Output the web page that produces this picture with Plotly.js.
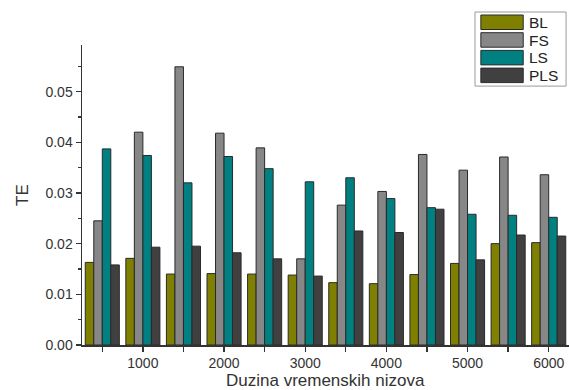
<!DOCTYPE html>
<html>
<head>
<meta charset="utf-8">
<script src="https://cdn.plot.ly/plotly-3.0.1.min.js"></script>
<style>html,body{margin:0;padding:0;background:#fff;}#chart{width:569px;height:390px;}</style>
</head>
<body>
<div id="chart"></div>
<script>
const lengths = [500, 1000, 1500, 2000, 2500, 3000, 3500, 4000, 4500, 5000, 5500, 6000];
const seriesNames = ["BL", "FS", "LS", "PLS"];
const seriesColors = ["#808000", "#878787", "#008080", "#404040"];
const BL  = [0.0163, 0.0171, 0.0140, 0.0141, 0.0140, 0.0138, 0.0123, 0.0121, 0.0139, 0.0161, 0.0200, 0.0202];
const FS  = [0.0245, 0.0420, 0.0549, 0.0418, 0.0389, 0.0170, 0.0276, 0.0303, 0.0376, 0.0345, 0.0371, 0.0336];
const LS  = [0.0387, 0.0374, 0.0320, 0.0372, 0.0348, 0.0322, 0.0330, 0.0289, 0.0271, 0.0258, 0.0256, 0.0252];
const PLS = [0.0158, 0.0193, 0.0195, 0.0182, 0.0170, 0.0136, 0.0225, 0.0222, 0.0268, 0.0168, 0.0217, 0.0215];
const xTickVals = [1000, 2000, 3000, 4000, 5000, 6000];
const yTickVals = [0, 0.01, 0.02, 0.03, 0.04, 0.05];
const xTitle = "Duzina vremenskih nizova";
const yTitle = "TE";

const values = [BL, FS, LS, PLS];
const traces = values.map((v, i) => ({
  type: "bar",
  name: seriesNames[i],
  x: lengths,
  y: v,
  marker: {color: seriesColors[i], line: {color: "#2a2a2a", width: 1}},
  showlegend: false,
  hoverinfo: "x+y+name"
}));

// custom legend (paper coordinates)
const shapes = [{
  type: "rect", xref: "paper", yref: "paper",
  x0: 0.807, x1: 0.994, y0: 0.863, y1: 1.110,
  line: {color: "#9a9a9a", width: 1}, fillcolor: "rgba(255,255,255,0)"
}];
const annotations = [];
seriesNames.forEach((n, i) => {
  const top = 15 + 17.7 * i, bot = 29.5 + 17.7 * i, mid = 22.3 + 17.7 * i;
  shapes.push({
    type: "rect", xref: "paper", yref: "paper",
    x0: 0.819, x1: 0.906,
    y0: (345 - bot) / 300, y1: (345 - top) / 300,
    fillcolor: seriesColors[i], line: {color: "#2a2a2a", width: 1}
  });
  annotations.push({
    xref: "paper", yref: "paper", x: 0.914, y: (345 - mid) / 300,
    xanchor: "left", yanchor: "middle", showarrow: false,
    text: n, font: {family: "Liberation Sans, Arial, sans-serif", size: 15.5, color: "#222"}
  });
});
// x-axis title placed as annotation beneath tick labels
annotations.push({
  xref: "paper", yref: "paper", x: 0.5, y: (345 - 391) / 300,
  xanchor: "center", yanchor: "bottom", showarrow: false, borderpad: 0,
  text: xTitle, font: {family: "Liberation Sans, Arial, sans-serif", size: 17, color: "#333"}
});

const axisFont = {family: "Liberation Sans, Arial, sans-serif", size: 14, color: "#333"};
const layout = {
  width: 569, height: 390,
  margin: {l: 82, r: 0, t: 45, b: 45, pad: 0},
  paper_bgcolor: "#fff", plot_bgcolor: "#fff",
  barmode: "group", bargap: 0.16, bargroupgap: 0,
  showlegend: false,
  xaxis: {
    range: [250, 6250], tickvals: xTickVals, ticktext: xTickVals.map(String),
    ticks: "outside", ticklen: 5, tickwidth: 1.3, tickcolor: "#333",
    minor: {dtick: 500, tick0: 0, ticks: "outside", ticklen: 5, tickwidth: 1.3, tickcolor: "#333", showgrid: false},
    showline: true, linecolor: "#333", linewidth: 1.5, showgrid: false, zeroline: false,
    tickfont: axisFont
  },
  yaxis: {
    range: [0, 0.0592], tickvals: yTickVals, tickformat: ".2f",
    ticks: "outside", ticklen: 5, tickwidth: 1.3, tickcolor: "#333",
    minor: {dtick: 0.005, tick0: 0, ticks: "outside", ticklen: 3, tickwidth: 1.3, tickcolor: "#333", showgrid: false},
    showline: true, linecolor: "#333", linewidth: 1.5, showgrid: false, zeroline: false,
    tickfont: axisFont,
    title: {text: yTitle, font: {family: "Liberation Sans, Arial, sans-serif", size: 17, color: "#333"}, standoff: 12}
  },
  shapes: shapes,
  annotations: annotations
};
Plotly.newPlot("chart", traces, layout, {displayModeBar: false, staticPlot: true});
</script>
</body>
</html>
